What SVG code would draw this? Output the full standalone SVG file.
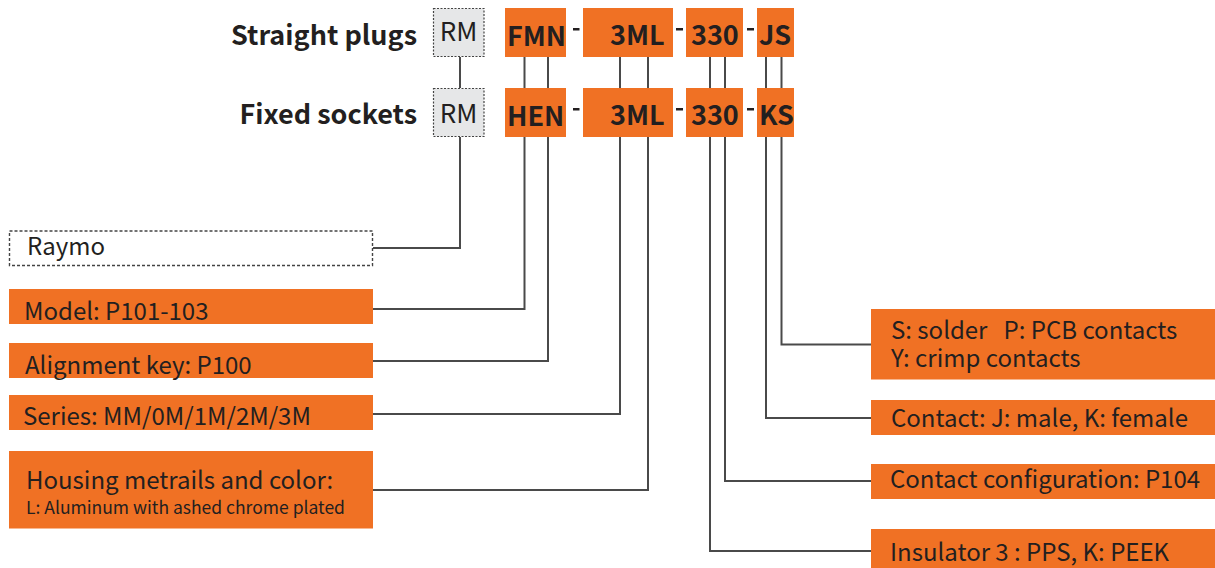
<svg xmlns="http://www.w3.org/2000/svg" width="1215" height="568" viewBox="0 0 1215 568">
<style>
text{font-family:"Noto Sans CJK SC","Noto Sans",sans-serif;fill:#231f20;white-space:pre}
.hdr{font-size:27px;font-weight:bold;text-anchor:end}
.code{font-size:27px;font-weight:bold}
.rm{font-size:26px;text-anchor:middle}
.lbl{font-size:24px}
.rl{font-size:24px}
.small{font-size:17.5px}
.or{fill:#f07124}
.gray{fill:#e6e7e8;stroke:#444;stroke-width:1.2;stroke-dasharray:2 1.5}
.dash{fill:none;stroke:#444;stroke-width:1.4;stroke-dasharray:3 2}
.ln{fill:none;stroke:#4a4a4a;stroke-width:2}
.dsh{fill:#231f20}
</style>
<g id="headers">
<text class="hdr" x="417" y="45">Straight plugs</text>
<text class="hdr" x="417" y="124">Fixed sockets</text>
</g>
<g id="connectors">
<path class="ln" d="M460 57V88M460 137V248H373"/>
<path class="ln" d="M524.5 57V88M524.5 137V309H373"/>
<path class="ln" d="M548 57V88M548 137V361H373"/>
<path class="ln" d="M620 57V88M620 137V414H373"/>
<path class="ln" d="M648 57V88M648 137V490H373"/>
<path class="ln" d="M710 57V88M710 137V551H871"/>
<path class="ln" d="M725 57V88M725 137V481H871"/>
<path class="ln" d="M766 57V88M766 137V418H871"/>
<path class="ln" d="M781.5 57V88M781.5 137V344.5H871"/>
</g>
<g id="row-plug">
<rect class="gray" x="433.5" y="8.5" width="50.5" height="48"/>
<text class="rm" x="458.5" y="41">RM</text>
<rect class="or" x="505" y="8" width="61" height="49"/>
<text class="code" x="507" y="46">FMN</text>
<rect class="dsh" x="573" y="28" width="6.5" height="2.5"/>
<rect class="or" x="583" y="8" width="90" height="49"/>
<text class="code" x="610" y="45">3ML</text>
<rect class="dsh" x="676" y="28" width="7" height="2.5"/>
<rect class="or" x="686" y="8" width="57" height="49"/>
<text class="code" x="691" y="45">330</text>
<rect class="dsh" x="747" y="28" width="7" height="2.5"/>
<rect class="or" x="757" y="8" width="37" height="49"/>
<text class="code" x="759" y="45">JS</text>
</g>
<g id="row-socket">
<rect class="gray" x="433.5" y="88.5" width="50.5" height="48"/>
<text class="rm" x="458.5" y="123">RM</text>
<rect class="or" x="505" y="88" width="61" height="49"/>
<text class="code" x="507" y="126">HEN</text>
<rect class="dsh" x="573" y="108" width="6.5" height="2.5"/>
<rect class="or" x="583" y="88" width="90" height="49"/>
<text class="code" x="610" y="125">3ML</text>
<rect class="dsh" x="676" y="108" width="7" height="2.5"/>
<rect class="or" x="686" y="88" width="57" height="49"/>
<text class="code" x="691" y="125">330</text>
<rect class="dsh" x="747" y="108" width="7" height="2.5"/>
<rect class="or" x="757" y="88" width="37" height="49"/>
<text class="code" x="759" y="125">KS</text>
</g>
<g id="raymo">
<rect class="dash" x="9.5" y="231" width="363" height="34.5" fill="#fff"/>
<text class="lbl" x="27" y="255">Raymo</text>
</g>
<g id="model">
<rect class="or" x="9" y="289" width="364" height="35"/>
<text class="lbl" x="24" y="320">Model: P101-103</text>
</g>
<g id="alignment">
<rect class="or" x="9" y="343" width="364" height="35"/>
<text class="lbl" x="25" y="374">Alignment key: P100</text>
</g>
<g id="series">
<rect class="or" x="9" y="395" width="364" height="35"/>
<text class="lbl" x="23" y="425">Series: MM/0M/1M/2M/3M</text>
</g>
<g id="housing">
<rect class="or" x="9" y="451" width="364" height="77.5"/>
<text class="lbl" x="26" y="489">Housing metrails and color:</text>
<text class="small" x="26" y="514">L: Aluminum with ashed chrome plated</text>
</g>
<g id="termination">
<rect class="or" x="871" y="309" width="344" height="70.5"/>
<text class="rl" x="891" y="339">S: solder   P: PCB contacts</text>
<text class="rl" x="891" y="367">Y: crimp contacts</text>
</g>
<g id="contact">
<rect class="or" x="871" y="400" width="344" height="35"/>
<text class="rl" x="891" y="427">Contact: J: male, K: female</text>
</g>
<g id="configuration">
<rect class="or" x="871" y="464" width="344" height="35"/>
<text class="rl" x="890" y="488">Contact configuration: P104</text>
</g>
<g id="insulator">
<rect class="or" x="871" y="529" width="344" height="39"/>
<text class="rl" x="890" y="561">Insulator 3 : PPS, K: PEEK</text>
</g>
</svg>
